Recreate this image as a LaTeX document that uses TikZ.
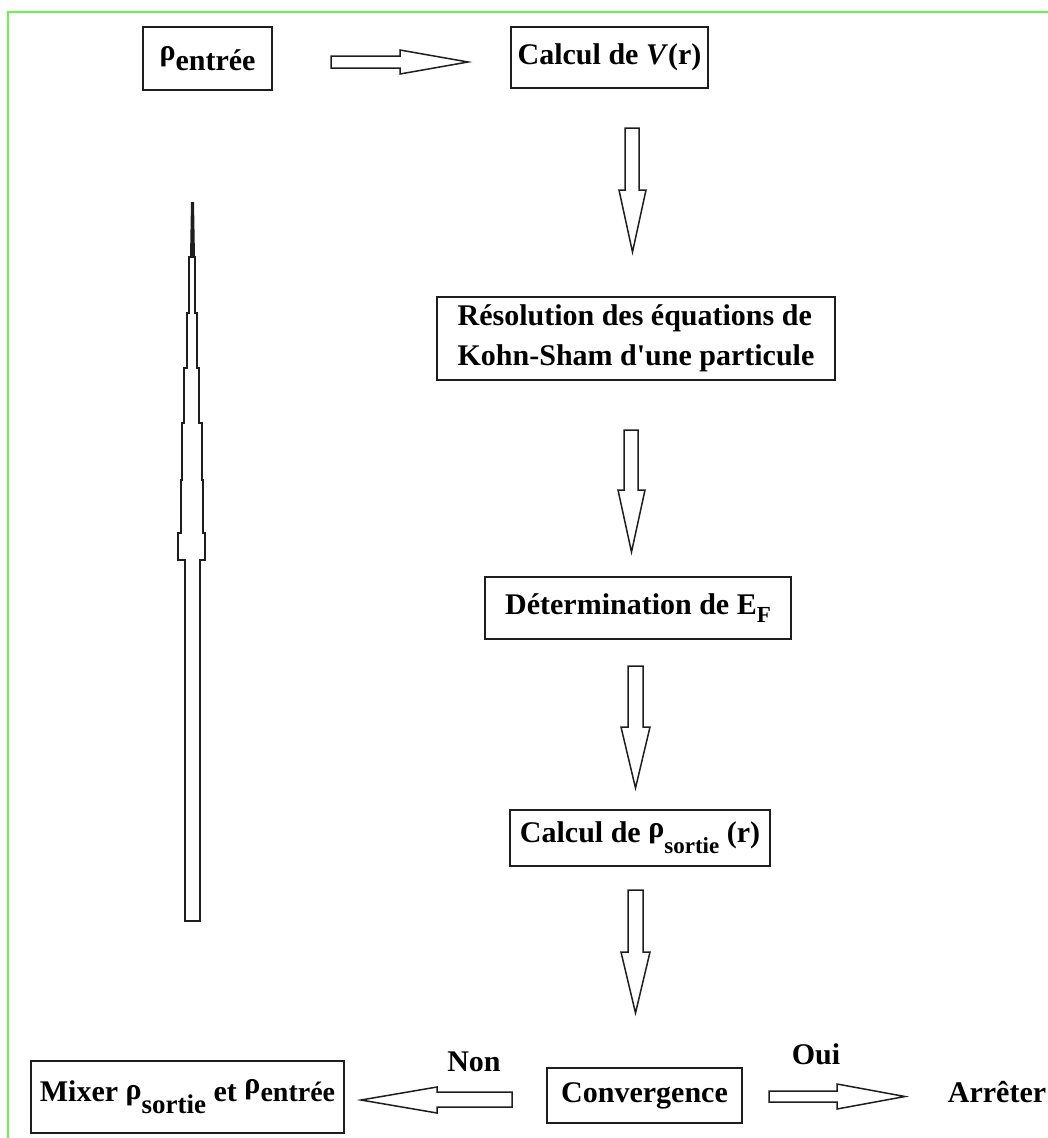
\documentclass[tikz,border=0pt]{standalone}
\usepackage{fontspec}
\setmainfont{Liberation Serif}[Ligatures=TeXOff]
\definecolor{frameGreen}{RGB}{102,245,72}
\definecolor{inkgray}{RGB}{30,30,30}
\begin{document}
\begin{tikzpicture}[x=1pt,y=-1pt,
  box/.style={draw=inkgray,line width=1.8pt,inner sep=0pt,align=center,
    font=\fontsize{30}{40}\selectfont\bfseries},
  lbl/.style={inner sep=0pt,font=\fontsize{30}{36}\selectfont\bfseries},
  fatarrow/.style={draw=inkgray,line width=1.5pt,fill=white,line join=miter}]
\useasboundingbox (0,0) rectangle (1048,1138);
% frame (top and left edges only)
\draw[frameGreen,line width=2.8pt] (8,1140) -- (8,12) -- (1050,12);

% boxes
\node[box,minimum width=129,minimum height=63] (rin) at (207.5,58.5)
  {\raisebox{5pt}{ρ}\raisebox{-5pt}{entrée}};
\node[box,minimum width=197,minimum height=61] (calcV) at (609.5,57.5)
  {Calcul de \textit{V}(r)};
\node[box,minimum width=398,minimum height=83,align=left] (ks) at (636,338.5)
  {Résolution des équations de\\Kohn-Sham d'une particule};
\node[box,minimum width=306,minimum height=62] (ef) at (638,608)
  {Détermination de E\raisebox{-8pt}{\fontsize{23}{23}\selectfont F}};
\node[box,minimum width=260,minimum height=56] (rout) at (640,838)
  {Calcul de \raisebox{5pt}{ρ}\raisebox{-11pt}{\fontsize{23}{23}\selectfont sortie} (r)};
\node[box,minimum width=195,minimum height=55] (conv) at (644.5,1095.5)
  {Convergence};
\node[box,minimum width=313,minimum height=72] (mix) at (187.5,1097)
  {Mixer \raisebox{2pt}{ρ}\raisebox{-12pt}{\fontsize{27}{27}\selectfont sortie} et \raisebox{8pt}{ρ}{\fontsize{28}{28}\selectfont entrée}};
\node[lbl] (oui) at (816,1054) {Oui};
\node[lbl] (non) at (474,1062) {Non};
\node[lbl] (stop) at (997,1092) {Arrêter};

% block arrows
% rho_entree -> Calcul V
\draw[fatarrow] (331,56) -- (400,56) -- (400,50) -- (468,62) -- (400,74) -- (400,68) -- (331,68) -- cycle;
% Calcul V -> KS
\draw[fatarrow] (625,128) -- (639,128) -- (639,190) -- (646,190) -- (632.5,252) -- (619,190) -- (625,190) -- cycle;
% KS -> EF
\draw[fatarrow] (624,430) -- (638,430) -- (638,490) -- (645,490) -- (631.5,552) -- (618,490) -- (624,490) -- cycle;
% EF -> rho_out
\draw[fatarrow] (628,666) -- (643,666) -- (643,727) -- (650,727) -- (635.5,788) -- (621,727) -- (628,727) -- cycle;
% rho_out -> convergence
\draw[fatarrow] (628,890) -- (643,890) -- (643,952) -- (650,952) -- (635.5,1013) -- (621,952) -- (628,952) -- cycle;
% convergence -> Arreter (Oui)
\draw[fatarrow] (769,1091) -- (837,1091) -- (837,1084) -- (905,1096.5) -- (837,1109) -- (837,1102) -- (769,1102) -- cycle;
% convergence -> Mixer (Non)
\draw[fatarrow] (512,1092) -- (437,1092) -- (437,1087) -- (361,1100) -- (437,1113) -- (437,1107) -- (512,1107) -- cycle;
% Mixer -> back up (long stepped arrow)
\draw[fatarrow] (185,921) -- (185,560) -- (178,560) -- (178,533) -- (181,533) -- (181,480)
  -- (182,480) -- (182,423) -- (184,423) -- (184,368) -- (187,368) -- (187,313)
  -- (189,313) -- (189,257) -- (195,257) -- (195,313) -- (197,313) -- (197,368)
  -- (199,368) -- (199,423) -- (202,423) -- (202,480) -- (203,480) -- (203,533)
  -- (205,533) -- (205,560) -- (200,560) -- (200,921) -- cycle;
\fill[inkgray] (190,257) -- (191,202) -- (194,202) -- (195,257) -- cycle;
\end{tikzpicture}
\end{document}
